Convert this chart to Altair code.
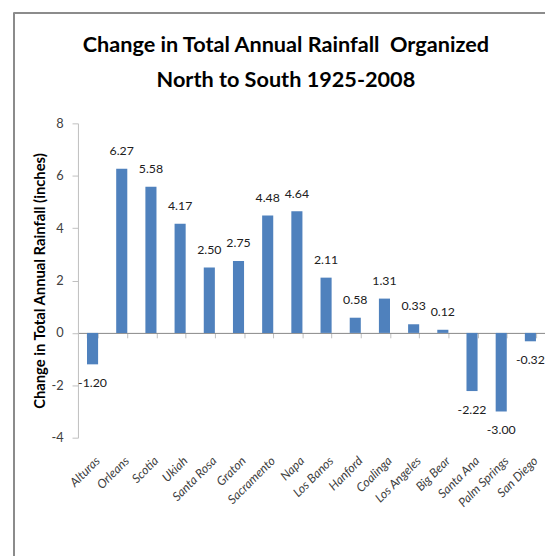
import altair as alt
import pandas as pd

cities = ["Alturas", "Orleans", "Scotia", "Ukiah", "Santa Rosa", "Graton", "Sacramento",
          "Napa", "Los Banos", "Hanford", "Coalinga", "Los Angeles", "Big Bear",
          "Santa Ana", "Palm Springs", "San Diego"]
values = [-1.20, 6.27, 5.58, 4.17, 2.50, 2.75, 4.48, 4.64, 2.11, 0.58, 1.31, 0.33, 0.12,
          -2.22, -3.00, -0.32]
y_ticks = [-4, -2, 0, 2, 4, 6, 8]

df = pd.DataFrame({"city": cities, "value": values})
df["label"] = [f"{v:.2f}" for v in values]

FONT = "Lato"
BAR = "#4F81BD"
W, H = 474, 319
ZERO_UP = H * 4 / 12  # distance of zero line above plot bottom

xscale = alt.Scale(paddingInner=0.62, paddingOuter=0.31)
yscale = alt.Scale(domain=[-4, 8], nice=False)

base = alt.Chart(df)

bars = base.mark_bar(color=BAR).encode(
    x=alt.X("city:N", sort=None, scale=xscale,
            axis=alt.Axis(orient="bottom", offset=-ZERO_UP, title=None,
                          labelAngle=-45, labelAlign="right", labelBaseline="middle",
                          labelFontStyle="italic", labelFont=FONT, labelFontSize=12.5,
                          labelColor="#404040", labelPadding=ZERO_UP + 16, labelOffset=5,
                          domain=True, domainColor="#868686", ticks=True, tickBand="extent",
                          tickColor="#BFBFBF", tickSize=5, grid=False, labelOverlap=False)),
    y=alt.Y("value:Q", scale=yscale,
            axis=alt.Axis(values=y_ticks, title="Change in Total Annual Rainfall (inches)",
                          labelExpr="toString(datum.value)",
                          titleFont=FONT, titleFontSize=15, titleFontWeight="bold",
                          titleColor="#000000", titlePadding=4,
                          labelFont=FONT, labelFontSize=13, labelColor="#404040",
                          labelPadding=9, tickSize=6, tickColor="#BFBFBF",
                          domainColor="#BFBFBF", grid=False)),
)

pos = base.transform_filter("datum.value >= 0").mark_text(
    font=FONT, fontSize=12.5, color="#202020", dy=-18, baseline="middle"
).encode(x=alt.X("city:N", sort=None, scale=xscale), y="value:Q", text="label:N")

neg = base.transform_filter("datum.value < 0").mark_text(
    font=FONT, fontSize=12.5, color="#202020", dy=19, baseline="middle"
).encode(x=alt.X("city:N", sort=None, scale=xscale), y="value:Q", text="label:N")

frame_v = alt.Chart(df).mark_rule(color="#8C8C8C", strokeWidth=1.5).encode(
    x=alt.value(-65), y=alt.value(-112), y2=alt.value(445))
frame_h = alt.Chart(df).mark_rule(color="#8C8C8C", strokeWidth=1.5).encode(
    x=alt.value(-65), x2=alt.value(480), y=alt.value(-112))

chart = alt.layer(bars, pos, neg, frame_v, frame_h).properties(
    width=W, height=H,
    title=alt.TitleParams(
        text=["Change in Total Annual Rainfall\u00a0 Organized", "North to South 1925-2008"],
        font=FONT, fontSize=22, fontWeight="bold", color="#000000",
        lineHeight=36, anchor="middle", dx=-26, offset=-81, frame="group"),
    autosize=alt.AutoSizeParams(type="none"),
    padding={"left": 71, "top": 113, "right": 0, "bottom": 116},
).configure_view(stroke=None)

chart.save("out.html", embed_options={"renderer": "svg", "actions": False})
